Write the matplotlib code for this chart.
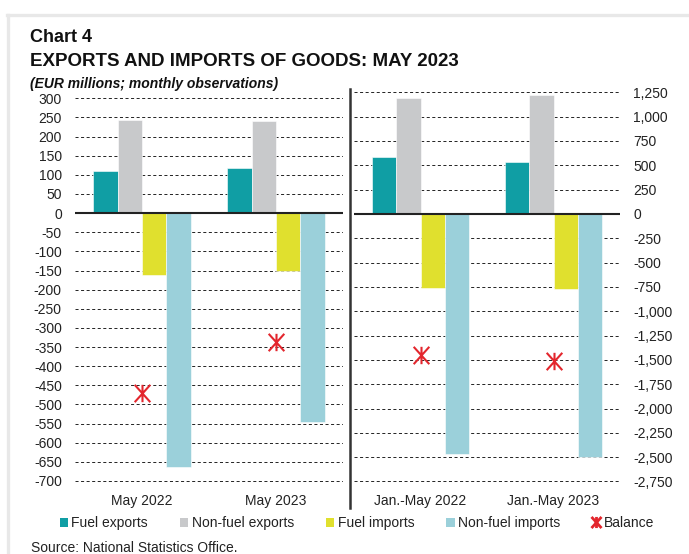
import matplotlib
matplotlib.use("Agg")
import matplotlib.pyplot as plt
from matplotlib.lines import Line2D
from matplotlib.patches import Patch
from matplotlib.path import Path

plt.rcParams['font.family'] = ['Liberation Sans', 'DejaVu Sans']
plt.rcParams['lines.scale_dashes'] = False

# ---- data (EUR millions) ----
series_names = ["Fuel exports", "Non-fuel exports", "Fuel imports", "Non-fuel imports"]
series_colors = ["#109EA4", "#C8C9CB", "#E0E02E", "#9BD0DA"]
balance_color = "#E3262D"

monthly_periods = ["May 2022", "May 2023"]
monthly_fuel_exports = [109, 119]
monthly_nonfuel_exports = [244, 241]
monthly_fuel_imports = [-161, -150]
monthly_nonfuel_imports = [-663, -547]
monthly_balance = [-471, -337]

cumul_periods = ["Jan.-May 2022", "Jan.-May 2023"]
cumul_fuel_exports = [582, 530]
cumul_nonfuel_exports = [1188, 1222]
cumul_fuel_imports = [-764, -771]
cumul_nonfuel_imports = [-2463, -2494]
cumul_balance = [-1455, -1513]

left_ticks = list(range(-700, 301, 50))
right_ticks = list(range(-2750, 1251, 250))

# balance marker: a cross with a vertical stroke through it
balance_marker = Path(
    [(-0.9, -1), (0.9, 1), (-0.9, 1), (0.9, -1), (0, -1), (0, 1)],
    [Path.MOVETO, Path.LINETO, Path.MOVETO, Path.LINETO, Path.MOVETO, Path.LINETO],
)

W, H = 689, 554
fig = plt.figure(figsize=(W / 100, H / 100), dpi=100)
fig.patch.set_facecolor("white")


def px_axes(x0, x1, v_top, p_top, v_bot, p_bot, pad):
    """Create axes so that value v_top sits at pixel row p_top and v_bot at p_bot."""
    scale = (p_bot - p_top) / (v_top - v_bot)
    y_top = p_top - pad * scale
    y_bot = p_bot + pad * scale
    ax = fig.add_axes([x0 / W, 1 - y_bot / H, (x1 - x0) / W, (y_bot - y_top) / H])
    ax.set_ylim(v_bot - pad, v_top + pad)
    return ax


def draw_panel(ax, periods, values, balance, ticks, side):
    n = len(periods)
    width = 0.182
    offsets = [-1.5 * width, -0.5 * width, 0.5 * width, 1.5 * width]
    xs = list(range(n))
    for vals, off, col in zip(values, offsets, series_colors):
        ax.bar([x + off for x in xs], vals, width=width, color=col,
               edgecolor="white", linewidth=0.4, zorder=2)
    ax.plot(xs, balance, linestyle="none", marker=balance_marker, markersize=12.5,
            markeredgewidth=1.5, color=balance_color, zorder=4)
    ax.set_xlim(-0.5, n - 0.5)
    ax.set_xticks(xs)
    ax.set_xticklabels(periods, fontsize=10, color="#222222")
    ax.set_yticks(ticks)
    ax.set_yticklabels([f"{t:,}" for t in ticks], fontsize=10, color="#222222")
    ax.tick_params(axis="both", length=0)
    ax.tick_params(axis="x", pad=6)
    ax.tick_params(axis="y", pad=9.5)
    if side == "right":
        ax.yaxis.tick_right()
    for s in ax.spines.values():
        s.set_visible(False)
    ax.set_axisbelow(True)
    for t in ticks:
        if t != 0:
            ax.axhline(t, color="black", linewidth=0.6,
                       linestyle=(0, (2.2, 1.8)), zorder=1)
    ax.axhline(0, color="#222222", linewidth=1.5, zorder=3)
    ax.set_facecolor("none")


ax_l = px_axes(75, 343, 300, 98.3, -700, 481.0, 12)
draw_panel(ax_l, monthly_periods,
           [monthly_fuel_exports, monthly_nonfuel_exports,
            monthly_fuel_imports, monthly_nonfuel_imports],
           monthly_balance, left_ticks, "left")

ax_r = px_axes(354, 620, 1250, 92.3, -2750, 481.5, 45)
draw_panel(ax_r, cumul_periods,
           [cumul_fuel_exports, cumul_nonfuel_exports,
            cumul_fuel_imports, cumul_nonfuel_imports],
           cumul_balance, right_ticks, "right")

# divider between the two panels
fig.add_artist(Line2D([350 / W, 350 / W], [1 - 89 / H, 1 - 508 / H],
                      color="#333333", linewidth=1.8))

# frame lines
fig.add_artist(Line2D([7 / W, 1], [1 - 15 / H, 1 - 15 / H], color="#E8E8E8", linewidth=2.4))
fig.add_artist(Line2D([8 / W, 8 / W], [1 - 15 / H, 0], color="#E8E8E8", linewidth=2.4))

# titles
fig.text(30 / W, 1 - 42 / H, "Chart 4", fontsize=13, fontweight="bold",
         va="baseline", ha="left", color="#111111")
fig.text(30 / W, 1 - 66 / H, "EXPORTS AND IMPORTS OF GOODS: MAY 2023", fontsize=13.5,
         fontweight="bold", va="baseline", ha="left", color="#111111")
fig.text(30 / W, 1 - 88 / H, "(EUR millions; monthly observations)", fontsize=10,
         fontweight="bold", fontstyle="italic", va="baseline", ha="left", color="#111111")
fig.text(31 / W, 1 - 552 / H, "Source: National Statistics Office.", fontsize=10,
         va="baseline", ha="left", color="#222222")

# legend
handles = [Patch(facecolor=c, edgecolor="none") for c in series_colors]
handles.append(Line2D([], [], linestyle="none", marker=balance_marker, markersize=8,
                      markeredgewidth=2.0, color=balance_color))
labels = series_names + ["Balance"]
fig.legend(handles, labels, loc="center", bbox_to_anchor=(357 / W, 1 - 523 / H),
           ncol=5, frameon=False, fontsize=10, handlelength=0.6, handleheight=0.6,
           handletextpad=0.25, columnspacing=2.3, borderpad=0, labelcolor="#222222")

fig.savefig("out.png", dpi=100)
